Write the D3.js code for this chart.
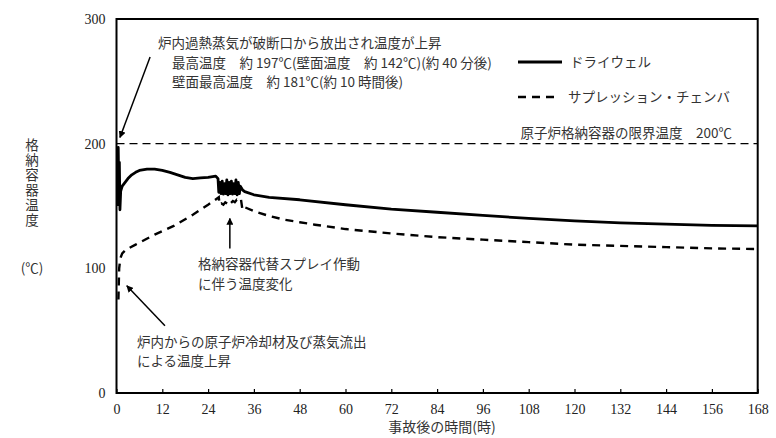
<!DOCTYPE html>
<html lang="ja">
<head>
<meta charset="UTF-8">
<title>格納容器温度</title>
<script src="https://d3js.org/d3.v7.min.js"></script>
<style>
	html, body { margin: 0; padding: 0; background: #fff; }
	#chart { width: 776px; height: 438px; }
	.jp { font-family: 'Noto Sans CJK JP', sans-serif; fill: #333; font-size: 13.5px; }
	.axis text { font-family: 'Liberation Serif', 'DejaVu Serif', serif; font-size: 14px; fill: #222; }
</style>
</head>
<body>
<div id="chart"></div>
<script>
// ---- data ----
var xTicks = [0, 12, 24, 36, 48, 60, 72, 84, 96, 108, 120, 132, 144, 156, 168];
var yTicks = [0, 100, 200, 300];
var limitTemp = 200;

// ドライウェル [時間, 温度]
var drywell = [
	[0.3, 150], [0.45, 197], [0.6, 160], [0.75, 185], [0.9, 147], [1.1, 162], [1.5, 166],
	[2, 168], [3, 172], [4, 175], [5, 177], [6, 178.5], [8, 179.5], [10, 179.5],
	[12, 178.5], [14, 177], [16, 175], [18, 173], [20, 172], [22, 172.5], [24, 173],
	[26, 174], [26.6, 172],
	[26.8, 161], [27.1, 169], [27.4, 160], [27.7, 170], [28.0, 159.5], [28.3, 168],
	[28.6, 160], [28.9, 171], [29.2, 159], [29.5, 169], [29.8, 160], [30.1, 170],
	[30.4, 159.5], [30.7, 168], [31.0, 160], [31.3, 171], [31.6, 159], [31.9, 169],
	[32.2, 160], [32.4, 166],
	[33, 163], [33.6, 161.5], [36, 159], [40, 157], [48, 155], [60, 151], [72, 147.5],
	[84, 145], [96, 142.5], [108, 140], [120, 138], [132, 136.5], [144, 135.5],
	[156, 134.5], [168, 134]
];

// サプレッション・チェンバ [時間, 温度]
var suppression = [
	[0.5, 75], [0.6, 88], [0.7, 100], [1, 108], [1.5, 112], [2.5, 115], [5, 119],
	[10, 127], [15, 134], [20, 143], [24, 151], [26.8, 157],
	[27.0, 151], [27.5, 152], [28, 151], [28.5, 153], [29, 152], [29.5, 154],
	[30, 152.5], [30.5, 154], [31, 153], [31.5, 155], [32, 154], [32.6, 155.5],
	[33.0, 147], [33.6, 149], [36.8, 145], [40, 142], [44, 139], [48, 137], [52, 135],
	[60, 131.5], [72, 128], [84, 125], [96, 123], [108, 121], [120, 119], [132, 118],
	[144, 117], [156, 116], [168, 115.5]
];

// 注記の矢印 [始点時間, 始点温度, 終点時間, 終点温度]
var arrows = [
	[8.8, 269.5, 0.9, 205],
	[29.7, 116, 29.7, 140],
	[12.7, 54, 2.7, 86]
];

// ---- layout ----
var width = 776, height = 438;
var margin = {top: 19, right: 18.3, bottom: 45, left: 116.5};

var svg = d3.select('#chart').append('svg')
	.attr('width', width)
	.attr('height', height);

svg.append('defs').append('marker')
	.attr('id', 'arrowhead')
	.attr('viewBox', '0 0 10 10')
	.attr('refX', 9).attr('refY', 5)
	.attr('markerWidth', 7).attr('markerHeight', 7)
	.attr('markerUnits', 'userSpaceOnUse')
	.attr('orient', 'auto')
	.append('path')
	.attr('d', 'M0,0 L10,5 L0,10 z')
	.attr('fill', '#000');

var x = d3.scaleLinear().domain([0, 168]).range([margin.left, width - margin.right]);
var y = d3.scaleLinear().domain([0, 300]).range([height - margin.bottom, margin.top]);

function serifTicks(g) {
	g.attr('class', 'axis');
	g.select('.domain').remove();
	g.selectAll('.tick text')
		.style('font-family', "'Liberation Serif', 'DejaVu Serif', serif")
		.style('font-size', '14px')
		.style('fill', '#222');
}

// axes
svg.append('g')
	.attr('transform', 'translate(0,' + y(0) + ')')
	.call(d3.axisBottom(x).tickValues(xTicks).tickSizeInner(-4).tickSizeOuter(0).tickPadding(11))
	.call(serifTicks)
	.call(function(g) { g.selectAll('.tick line').attr('stroke', '#000').attr('stroke-width', 1.2); });

svg.append('g')
	.attr('transform', 'translate(' + x(0) + ',0)')
	.call(d3.axisLeft(y).tickValues(yTicks).tickSize(0).tickPadding(11))
	.call(serifTicks);

// limit line
svg.append('line')
	.attr('x1', x(0)).attr('x2', x(168))
	.attr('y1', y(limitTemp)).attr('y2', y(limitTemp))
	.attr('stroke', '#000')
	.attr('stroke-width', 1.4)
	.attr('stroke-dasharray', '8,5');

var line = d3.line()
	.x(function(d) { return x(d[0]); })
	.y(function(d) { return y(d[1]); });

svg.append('path')
	.attr('d', line(suppression))
	.attr('fill', 'none')
	.attr('stroke', '#000')
	.attr('stroke-width', 2.4)
	.attr('stroke-dasharray', '8,6');

svg.append('path')
	.attr('d', line(drywell))
	.attr('fill', 'none')
	.attr('stroke', '#000')
	.attr('stroke-width', 2.8)
	.attr('stroke-linejoin', 'round');

// frame
svg.append('rect')
	.attr('x', x(0)).attr('y', y(300))
	.attr('width', x(168) - x(0))
	.attr('height', y(0) - y(300))
	.attr('fill', 'none')
	.attr('stroke', '#000')
	.attr('stroke-width', 2);

// arrows
svg.selectAll('.arrow')
	.data(arrows)
	.enter().append('line')
	.attr('class', 'arrow')
	.attr('x1', function(d) { return x(d[0]); })
	.attr('y1', function(d) { return y(d[1]); })
	.attr('x2', function(d) { return x(d[2]); })
	.attr('y2', function(d) { return y(d[3]); })
	.attr('stroke', '#000')
	.attr('stroke-width', 1.5)
	.attr('marker-end', 'url(#arrowhead)');

// legend
var legend = svg.append('g');
legend.append('line')
	.attr('x1', 518).attr('x2', 562).attr('y1', 62).attr('y2', 62)
	.attr('stroke', '#000').attr('stroke-width', 2.8);
legend.append('line')
	.attr('x1', 518).attr('x2', 560).attr('y1', 97).attr('y2', 97)
	.attr('stroke', '#000').attr('stroke-width', 2.6)
	.attr('stroke-dasharray', '8,6');
legend.append('text').attr('class', 'jp')
	.attr('x', 570).attr('y', 62).attr('dy', '0.35em')
	.text('ドライウェル');
legend.append('text').attr('class', 'jp')
	.attr('x', 568).attr('y', 97).attr('dy', '0.35em')
	.text('サプレッション・チェンバ');

// annotations
var notes = [
	{x: 158, y: 43, t: '炉内過熱蒸気が破断口から放出され温度が上昇'},
	{x: 172, y: 63, t: '最高温度　約 197℃(壁面温度　約 142℃)(約 40 分後)'},
	{x: 172, y: 82, t: '壁面最高温度　約 181℃(約 10 時間後)'},
	{x: 198, y: 264, t: '格納容器代替スプレイ作動'},
	{x: 198, y: 284, t: 'に伴う温度変化'},
	{x: 137, y: 342, t: '炉内からの原子炉冷却材及び蒸気流出'},
	{x: 137, y: 361, t: 'による温度上昇'}
];
svg.selectAll('.note')
	.data(notes)
	.enter().append('text')
	.attr('class', 'jp note')
	.attr('x', function(d) { return d.x; })
	.attr('y', function(d) { return d.y; })
	.attr('dy', '0.35em')
	.text(function(d) { return d.t; });

svg.append('text').attr('class', 'jp')
	.attr('x', 732).attr('y', 133).attr('dy', '0.35em')
	.attr('text-anchor', 'end')
	.text('原子炉格納容器の限界温度　200℃');

// axis titles
svg.append('text').attr('class', 'jp')
	.attr('x', 32).attr('y', 138)
	.style('writing-mode', 'vertical-rl')
	.style('text-orientation', 'upright')
	.style('letter-spacing', '1.5px')
	.text('格納容器温度');

svg.append('text').attr('class', 'jp')
	.attr('x', 32).attr('y', 268).attr('dy', '0.35em')
	.attr('text-anchor', 'middle')
	.text('(℃)');

svg.append('text').attr('class', 'jp')
	.attr('x', 442).attr('y', 427).attr('dy', '0.35em')
	.attr('text-anchor', 'middle')
	.style('font-size', '14px')
	.text('事故後の時間(時)');
</script>
</body>
</html>
